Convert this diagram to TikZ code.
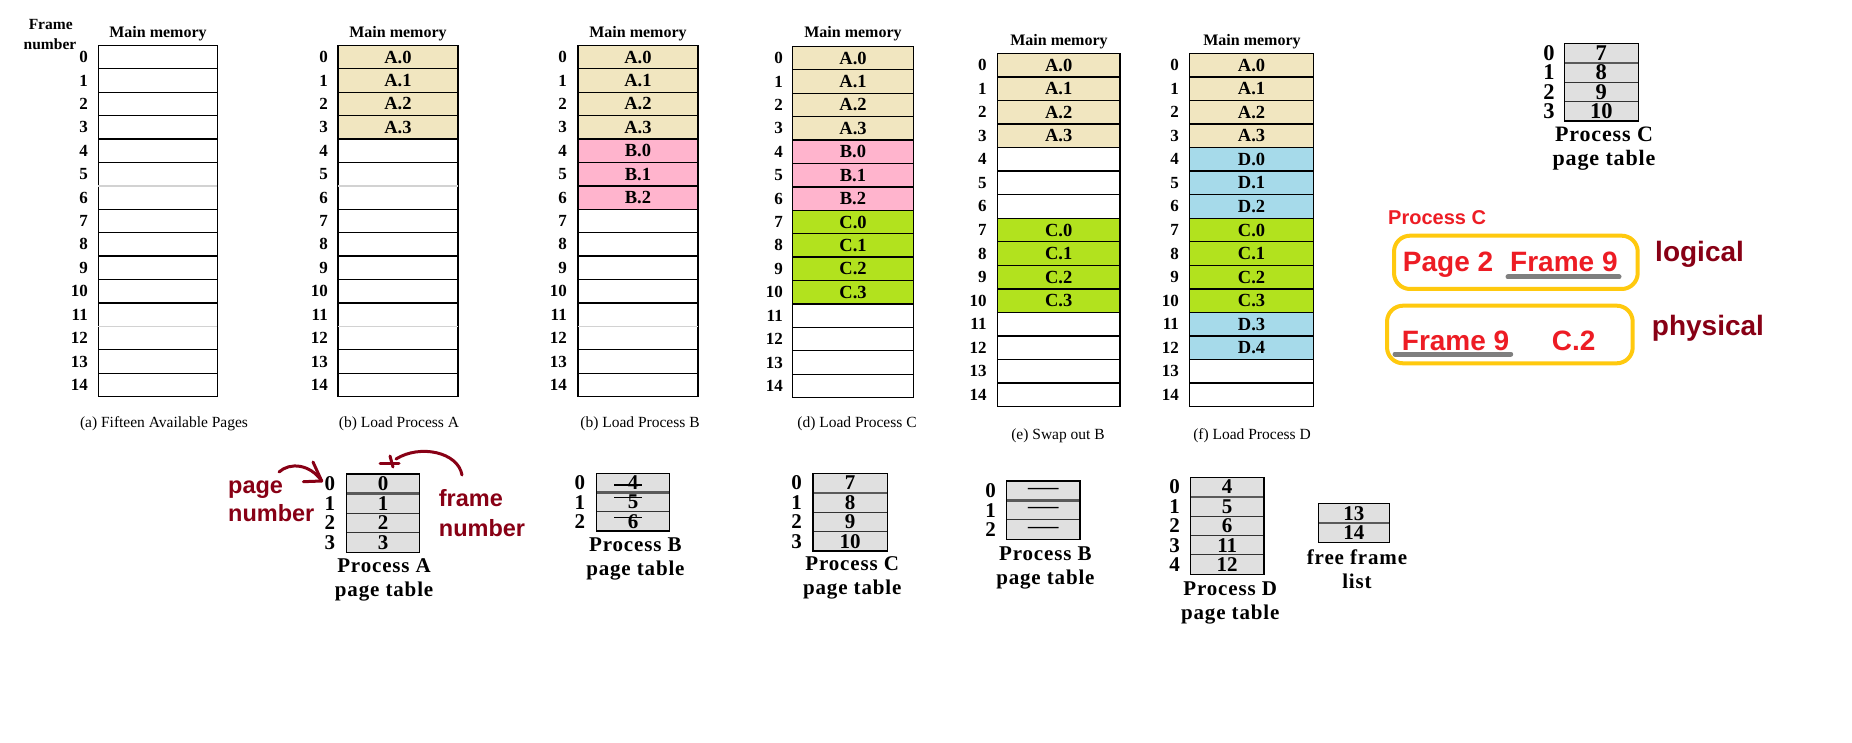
\documentclass[tikz,border=0pt]{standalone}
\usepackage{fontspec}
\setmainfont{Liberation Serif}
\newfontfamily\annotfont{Liberation Sans}
\newfontfamily\ptfont[LetterSpace=4]{Liberation Serif}
\definecolor{cA}{RGB}{241,230,192}
\definecolor{cB}{RGB}{255,180,205}
\definecolor{cC}{RGB}{178,226,30}
\definecolor{cD}{RGB}{166,218,234}
\definecolor{ptgray}{RGB}{224,224,224}
\definecolor{sepgray}{RGB}{90,90,90}
\definecolor{mred}{RGB}{237,28,36}
\definecolor{dred}{RGB}{136,0,21}
\definecolor{gold}{RGB}{255,201,14}
\definecolor{ulgray}{RGB}{127,127,127}
\tikzset{
  cell/.style={draw=black, line width=1.3pt, inner sep=0pt, outer sep=0pt, fill=white,
    font=\fontsize{18.5}{18.5}\selectfont\bfseries},
  flab/.style={inner sep=0pt, font=\fontsize{17}{17}\selectfont\bfseries},
  memhead/.style={inner sep=0pt, anchor=base, font=\fontsize{16}{16}\selectfont\bfseries},
  capt/.style={inner sep=0pt, anchor=base, font=\fontsize{15.5}{15.5}\selectfont},
  pcell/.style={draw=black!80, line width=1pt, inner sep=0pt, outer sep=0pt, fill=ptgray},
  ptitle/.style={inner sep=0pt, align=center, font=\fontsize{21}{24}\ptfont\bfseries},
  redtxt/.style={inner sep=0pt, anchor=base west, text=mred, font=\fontsize{28}{28}\annotfont\bfseries},
  drtxt/.style={inner sep=0pt, anchor=base west, text=dred, font=\fontsize{28}{28}\annotfont\bfseries},
  drsmall/.style={inner sep=0pt, anchor=base west, text=dred, font=\fontsize{23.5}{23.5}\annotfont\bfseries},
  goldbox/.style={draw=gold, line width=4pt, rounded corners=16pt, inner sep=0pt},
  uline/.style={draw=ulgray, line width=5pt, line cap=round},
  handarrow/.style={draw=dred, line width=3pt, line cap=round, line join=round},
}
% memory table: name, x0, x1, ytop, ybot, label right x
\newcommand\memtab[6]{%
  \pgfmathsetmacro\rh{(#5-#4)/15}%
  \pgfmathsetmacro\cw{#3-#2}%
  \foreach \i in {0,...,14}{%
    \node[cell, minimum width=\cw pt, minimum height=\rh pt, anchor=north west] (#1-\i) at (#2,{#4+\i*\rh}) {};
    \node[flab, anchor=east] (#1-n\i) at (#6,{#4+(\i+0.5)*\rh}) {\i};
  }%
}
\newcommand\memfill[6]{%
  \pgfmathsetmacro\rh{(#5-#4)/15}%
  \pgfmathsetmacro\cw{#3-#2}%
  \foreach \i/\lab/\col in {#6}{%
    \node[cell, fill=\col, minimum width=\cw pt, minimum height=\rh pt, anchor=north west] (#1-f\i) at (#2,{#4+\i*\rh}) {\lab};
  }%
}
% page table: name, x0, x1, ytop, ybot, nrows, list i/val, font size
\newcommand\ptab[8]{%
  \pgfmathsetmacro\rh{(#5-#4)/#6}%
  \pgfmathsetmacro\cw{#3-#2}%
  \foreach \i/\v in {#7}{%
    \node[pcell, font=\fontsize{#8}{#8}\selectfont\bfseries, minimum width=\cw pt, minimum height=\rh pt, anchor=north west] (#1-\i) at (#2,{#4+\i*\rh}) {\v};
  }%
  \draw[line width=2.2pt, draw=sepgray] (#2,{#4+\rh}) -- (#3,{#4+\rh});
  \draw[line width=1.3pt] (#2,#4) rectangle (#3,#5);
}
% page numbers: name, x, ytop, ybot, nrows, font size
\newcommand\plab[6]{%
  \pgfmathsetmacro\rh{(#4-#3)/#5}%
  \pgfmathtruncatemacro\lastrow{#5-1}%
  \foreach \i in {0,...,\lastrow}{%
    \node[inner sep=0pt, font=\fontsize{#6}{#6}\selectfont\bfseries] (#1-n\i) at (#2,{#3+(\i+0.5)*\rh}) {\i};
  }%
}
\begin{document}
\begin{tikzpicture}[x=1pt,y=-1pt]
\useasboundingbox (0,0) rectangle (1852,743);
\fill[white] (0,0) rectangle (1852,743);

% ---------- memory tables ----------
\node[inner sep=0pt, anchor=base, font=\fontsize{15.5}{15.5}\selectfont\bfseries] (fr1) at (50.7,29.3) {Frame};
\node[inner sep=0pt, anchor=base, font=\fontsize{15.5}{15.5}\selectfont\bfseries] (fr2) at (50,50) {number};

\memtab{ma}{98.3}{217.3}{45.3}{396.7}{88}
\draw[line width=1.3pt, gray!35] (98.3,{45.3+6*23.427}) -- (217.3,{45.3+6*23.427});
\draw[line width=1.3pt, gray!35] (98.3,{45.3+12*23.427}) -- (217.3,{45.3+12*23.427});
\node[memhead] (ha) at (158,37.3) {Main memory};
\node[capt] (ca) at (164,427) {(a) Fifteen Available Pages};

\memtab{mb}{338}{458}{45.3}{396.7}{328}
\draw[line width=1.3pt, gray!35] (338,{45.3+6*23.427}) -- (458,{45.3+6*23.427});
\draw[line width=1.3pt, gray!35] (338,{45.3+12*23.427}) -- (458,{45.3+12*23.427});
\memfill{mb}{338}{458}{45.3}{396.7}{0/A.0/cA,1/A.1/cA,2/A.2/cA,3/A.3/cA}
\node[memhead] (hb) at (398,37.3) {Main memory};
\node[capt] (cb) at (399,427) {(b) Load Process A};

\memtab{mc}{578}{698}{45.3}{396.7}{567}
\draw[line width=1.3pt, gray!35] (578,{45.3+12*23.427}) -- (698,{45.3+12*23.427});
\memfill{mc}{578}{698}{45.3}{396.7}{0/A.0/cA,1/A.1/cA,2/A.2/cA,3/A.3/cA,4/B.0/cB,5/B.1/cB,6/B.2/cB}
\node[memhead] (hc) at (638,37.3) {Main memory};
\node[capt] (cc) at (640,427) {(b) Load Process B};

\memtab{md}{792.7}{913.3}{46.3}{397.7}{783}
\memfill{md}{792.7}{913.3}{46.3}{397.7}{0/A.0/cA,1/A.1/cA,2/A.2/cA,3/A.3/cA,4/B.0/cB,5/B.1/cB,6/B.2/cB,7/C.0/cC,8/C.1/cC,9/C.2/cC,10/C.3/cC}
\node[memhead] (hd) at (853,37.3) {Main memory};
\node[capt] (cd) at (857,427) {(d) Load Process C};

\memtab{me}{997.3}{1120}{53.3}{406.7}{986.7}
\memfill{me}{997.3}{1120}{53.3}{406.7}{0/A.0/cA,1/A.1/cA,2/A.2/cA,3/A.3/cA,7/C.0/cC,8/C.1/cC,9/C.2/cC,10/C.3/cC}
\node[memhead] (he) at (1059,46) {Main memory};
\node[capt] (ce) at (1058,439.3) {(e) Swap out B};

\memtab{mf}{1189.7}{1313.3}{53.3}{406.7}{1179}
\memfill{mf}{1189.7}{1313.3}{53.3}{406.7}{0/A.0/cA,1/A.1/cA,2/A.2/cA,3/A.3/cA,4/D.0/cD,5/D.1/cD,6/D.2/cD,7/C.0/cC,8/C.1/cC,9/C.2/cC,10/C.3/cC,11/D.3/cD,12/D.4/cD}
\node[memhead] (hf) at (1252,46) {Main memory};
\node[capt] (cf) at (1252,439.3) {(f) Load Process D};

% ---------- page tables ----------
\ptab{pa}{346.4}{419.7}{474}{552.3}{4}{0/0,1/1,2/2,3/3}{21}
\plab{pa}{329.9}{474}{552.3}{4}{21}
\node[ptitle] (ta) at (384.1,579.7) {Process A\\page table};

\ptab{pb}{596.6}{669.5}{473.3}{531}{3}{0/4,1/5,2/6}{21}
\plab{pb}{579.8}{473.3}{531}{3}{21}
\draw[line width=1.2pt] (614,485) -- (642,485);
\draw[line width=1.2pt] (614,497.3) -- (642,497.3);
\draw[line width=1.2pt] (614,517.3) -- (642,517.3);
\node[ptitle] (tb) at (635.4,559.3) {Process B\\page table};

\ptab{pc}{812.9}{887.2}{473.3}{551}{4}{0/7,1/8,2/9,3/10}{21}
\plab{pc}{796.6}{473.3}{551}{4}{21}
\node[ptitle] (tc) at (852.2,578.3) {Process C\\page table};

\ptab{pb2}{1006.4}{1080}{481}{539.3}{3}{0/\scalebox{1.6}[1]{—},1/\scalebox{1.6}[1]{—},2/\scalebox{1.6}[1]{—}}{19}
\plab{pb2}{990.5}{481}{539.3}{3}{21}
\node[ptitle] (tb2) at (1045.4,567.5) {Process B\\page table};

\ptab{pd}{1190.4}{1264}{477.3}{574.3}{5}{0/4,1/5,2/6,3/11,4/12}{21}
\plab{pd}{1174.5}{477.3}{574.3}{5}{21}
\node[ptitle] (td) at (1230.2,602.8) {Process D\\page table};

\ptab{pf}{1318.3}{1389.3}{503.3}{542.7}{2}{0/13,1/14}{21}
\node[ptitle] (tf) at (1357,569.2) {free frame\\list};

\ptab{pc2}{1564.3}{1638.3}{43.3}{121}{4}{0/7,1/8,2/9,3/10}{22.5}
\plab{pc2}{1549}{43.3}{121}{4}{22.5}
\node[ptitle, font=\fontsize{22}{24.3}\ptfont\bfseries] (tc2) at (1604,148.8) {Process C\\page table};

% ---------- annotations (right) ----------
\node[redtxt, font=\fontsize{20}{20}\annotfont\bfseries] (procc) at (1388,225) {Process C};
\node[goldbox, minimum width=243.7pt, minimum height=53.3pt] (box1) at (1515.85,262.35) {};
\node[redtxt] (pg2) at (1402.7,272) {Page 2};
\node[redtxt] (f9a) at (1510,272) {Frame 9};
\draw[uline] (1508,277) -- (1619,277);
\node[drtxt] (logical) at (1655,261.7) {logical};

\node[goldbox, minimum width=245.7pt, minimum height=57.6pt] (box2) at (1509.85,334.5) {};
\node[redtxt] (f9b) at (1401.7,350) {Frame 9};
\node[redtxt] (c2) at (1551.7,350) {C.2};
\draw[uline] (1395,354) -- (1510.7,354);
\node[drtxt] (physical) at (1651.7,335) {physical};

% ---------- annotations (page / frame number) ----------
\node[drsmall] (pagew) at (228,493.3) {page};
\node[drsmall] (pagenum) at (228,521.7) {number};
\node[drsmall] (framew) at (438.7,506.7) {frame};
\node[drsmall] (framenum) at (438.7,536.7) {number};

\coordinate (a1s) at (279,472);
\coordinate (a1t) at (321.7,481);
\draw[handarrow] (a1s) .. controls (290,462) and (310,464) .. (a1t);
\draw[handarrow] (313,462) -- (a1t) -- (303.4,481.7);

\coordinate (a2s) at (462,475);
\coordinate (a2t) at (396,459);
\draw[handarrow] (a2s) .. controls (458,452) and (420,444) .. (a2t);
\draw[handarrow] (380,463) -- (399,463);
\draw[handarrow] (390,456) -- (393,467);
\end{tikzpicture}
\end{document}
